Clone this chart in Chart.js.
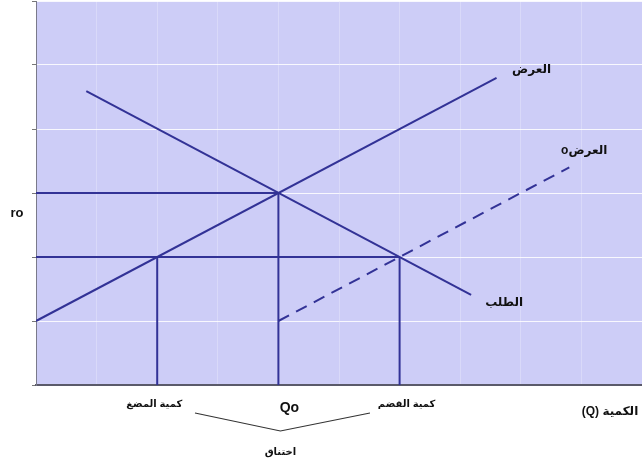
<!DOCTYPE html>
<html>
<head>
<meta charset="utf-8">
<script src="https://cdn.jsdelivr.net/npm/chart.js@4.4.0/dist/chart.umd.min.js"></script>
<style>
  body { margin: 0; background: #fff; }
  #wrap { width: 642px; height: 459px; }
</style>
</head>
<body>
<div id="wrap"><canvas id="chart" width="642" height="459"></canvas></div>
<script>
/************************ DATA ************************** */
// supply curve (العرض)
const supplyX = [0, 7.6];
const supplyY = [1, 4.8];
// demand curve (الطلب)
const demandX = [0.83, 7.18];
const demandY = [4.59, 1.41];
// shifted supply (dashed)
const supply0X = [4, 8.8];
const supply0Y = [1, 3.4];
// price levels drawn across from the axis
const priceLevels = [3, 2];
const priceEndX = [4, 6];
// quantities dropped to the axis
const qtyX = [2, 4, 6];
const qtyTop = [2, 3, 2];

const curveLabels = ["العرض", "oالعرض", "الطلب"];
const qtyLabels = ["كمية المضغ", "Qo", "كمية القضم"];
const axisLabelX = "(Q) الكمية";
const axisLabelY = "ro";
const braceLabel = "اختناق";

/************************ BUILD DATASETS ************************** */
const lineColor = "#323296";
const toPts = (xs, ys) => xs.map((x, i) => ({ x: x, y: ys[i] }));

let datasets = [
  { data: toPts(supplyX, supplyY) },
  { data: toPts(demandX, demandY) },
  { data: toPts(supply0X, supply0Y), borderDash: [12, 8] },
];
for (let i = 0; i < priceLevels.length; i++) {
  datasets.push({ data: toPts([0, priceEndX[i]], [priceLevels[i], priceLevels[i]]) });
}
for (let i = 0; i < qtyX.length; i++) {
  datasets.push({ data: toPts([qtyX[i], qtyX[i]], [0, qtyTop[i]]) });
}
datasets = datasets.map((d) => ({
  ...d,
  showLine: true,
  borderColor: lineColor,
  borderWidth: 2,
  pointRadius: 0,
  fill: false,
}));

/************************ PLUGINS ************************** */
const bgPlugin = {
  id: "bg",
  beforeDraw(chart) {
    const { ctx, chartArea: a } = chart;
    ctx.save();
    ctx.fillStyle = "#cdcdf7";
    ctx.fillRect(a.left, a.top, a.right - a.left, a.bottom - a.top);
    ctx.restore();
  },
};

const textPlugin = {
  id: "texts",
  afterDraw(chart) {
    const { ctx } = chart;
    const xs = chart.scales.x;
    const ys = chart.scales.y;
    const arabic = "'Liberation Sans', 'DejaVu Sans', sans-serif";
    ctx.save();
    ctx.fillStyle = "#111";
    ctx.textBaseline = "middle";
    ctx.textAlign = "center";

    // curve labels, placed near the end of each curve
    ctx.font = "bold 12px " + arabic;
    ctx.fillText(curveLabels[0], xs.getPixelForValue(supplyX[1]) + 35, ys.getPixelForValue(supplyY[1]) - 8);
    ctx.fillText(curveLabels[1], xs.getPixelForValue(supply0X[1]) + 15, ys.getPixelForValue(supply0Y[1]) - 17);
    ctx.fillText(curveLabels[2], xs.getPixelForValue(demandX[1]) + 33, ys.getPixelForValue(demandY[1]) + 8);

    // quantity labels under the axis
    const yLab = ys.getPixelForValue(0) + 19;
    ctx.font = "bold 10px " + arabic;
    ctx.fillText(qtyLabels[0], xs.getPixelForValue(qtyX[0]) - 3, yLab);
    ctx.fillText(qtyLabels[2], xs.getPixelForValue(qtyX[2]) + 7, yLab);
    ctx.font = "bold 14px 'Liberation Sans', sans-serif";
    ctx.fillText(qtyLabels[1], xs.getPixelForValue(qtyX[1]) + 11, yLab + 4);

    ctx.font = "bold 12px " + arabic;
    ctx.fillText(axisLabelX, 610, yLab + 8);

    ctx.font = "bold 13px 'Liberation Sans', sans-serif";
    ctx.fillText(axisLabelY, 17, 213);

    // brace joining the two quantities
    const mid = xs.getPixelForValue(qtyX[1]) + 2;
    ctx.strokeStyle = "#333";
    ctx.lineWidth = 1.2;
    ctx.beginPath();
    ctx.moveTo(195, yLab + 9);
    ctx.lineTo(mid, yLab + 27);
    ctx.lineTo(370, yLab + 9);
    ctx.stroke();

    ctx.font = "bold 10px " + arabic;
    ctx.fillText(braceLabel, mid, yLab + 48);
    ctx.restore();
  },
};

/************************ CHART ************************** */
const ctx = document.getElementById("chart");
const myChart = new Chart(ctx, {
  type: "scatter",
  data: { datasets: datasets },
  options: {
    responsive: false,
    animation: false,
    layout: { padding: { top: 1, right: 0, left: 0, bottom: 0 } },
    plugins: {
      legend: { display: false },
      tooltip: { enabled: false },
    },
    scales: {
      x: {
        type: "linear",
        min: 0,
        max: 10,
        ticks: { display: false, stepSize: 1 },
        grid: { color: "rgba(255,255,255,0.25)", lineWidth: 1, drawTicks: false },
        border: { color: "#5a5a6a", width: 2 },
        afterFit: (s) => { s.height = 74; },
      },
      y: {
        type: "linear",
        min: 0,
        max: 6,
        ticks: { display: false, stepSize: 1 },
        grid: { color: "rgba(255,255,255,0.85)", lineWidth: 1, tickLength: 4, tickColor: "#777" },
        border: { color: "#7a7a8a", width: 1 },
        afterFit: (s) => { s.width = 36; },
      },
    },
  },
  plugins: [bgPlugin, textPlugin],
});
</script>
</body>
</html>
